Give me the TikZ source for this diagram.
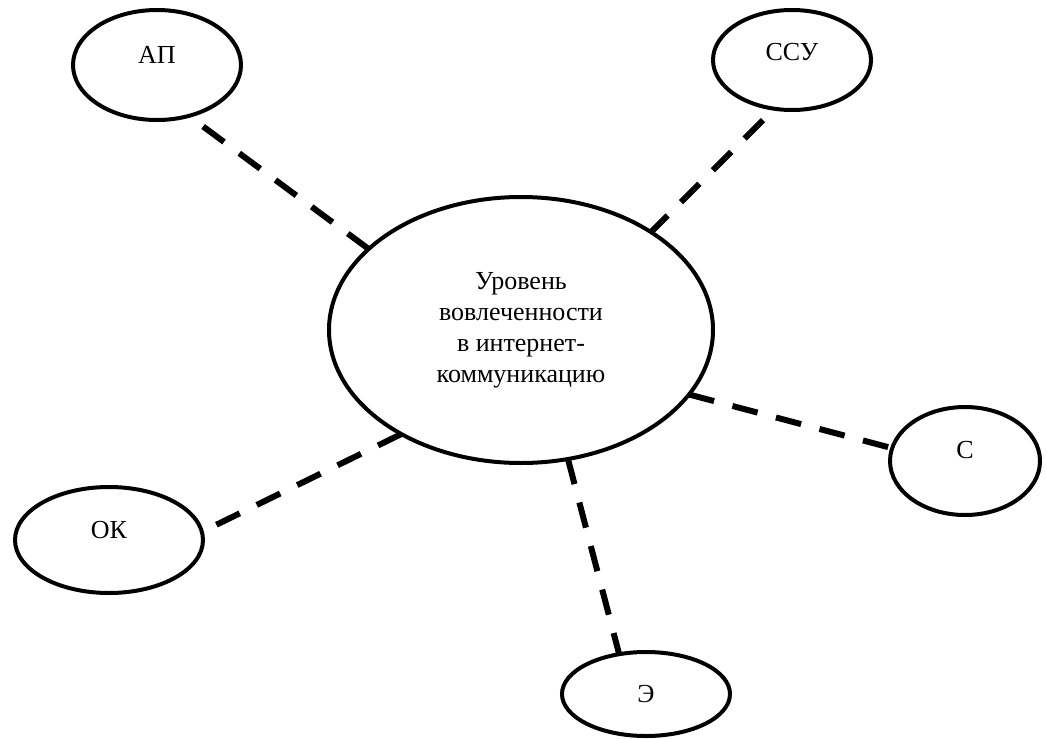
\documentclass[tikz,border=0pt]{standalone}
\usepackage{fontspec}
\setmainfont{Liberation Serif}
\usetikzlibrary{shapes.geometric}
\begin{document}
\begin{tikzpicture}[x=1pt,y=-1pt,
  ell/.style={draw, ellipse, line width=4pt, inner sep=0pt, outer sep=0pt, fill=white},
  conn/.style={line width=6pt, dash pattern=on 26pt off 19pt},
  lbl/.style={font=\fontsize{26}{31}\selectfont}]
\useasboundingbox[fill=white] (0,0) rectangle (1047,739);
% connectors (drawn first, ellipses on top)
\node[ell, minimum width=384pt, minimum height=266pt, lbl, align=center] (c) at (521,330)
  {Уровень\\вовлеченности\\в интернет-\\коммуникацию};
\node[ell, minimum width=168pt, minimum height=110pt,
  label={[lbl, yshift=10pt]center:АП}] (ap) at (157,65) {};
\node[ell, minimum width=158pt, minimum height=100pt,
  label={[lbl, yshift=8pt]center:ССУ}] (ssu) at (792,60) {};
\node[ell, minimum width=188pt, minimum height=106pt,
  label={[lbl, yshift=10pt]center:ОК}] (ok) at (109,540) {};
\node[ell, minimum width=150pt, minimum height=108pt,
  label={[lbl, yshift=11pt]center:С}] (s) at (965,461) {};
\node[ell, minimum width=168pt, minimum height=84pt,
  label={[lbl]center:Э}] (e) at (646,694) {};
\draw[conn] (c.152) -- (ap.-58);
\draw[conn, shorten <=16pt] (ssu.-110) -- (c.37);
\draw[conn] (c.-139) -- (ok.5);
\draw[conn] (c.-21) -- (s.170);
\draw[conn] (c.-70) -- (e.124);
\end{tikzpicture}
\end{document}
